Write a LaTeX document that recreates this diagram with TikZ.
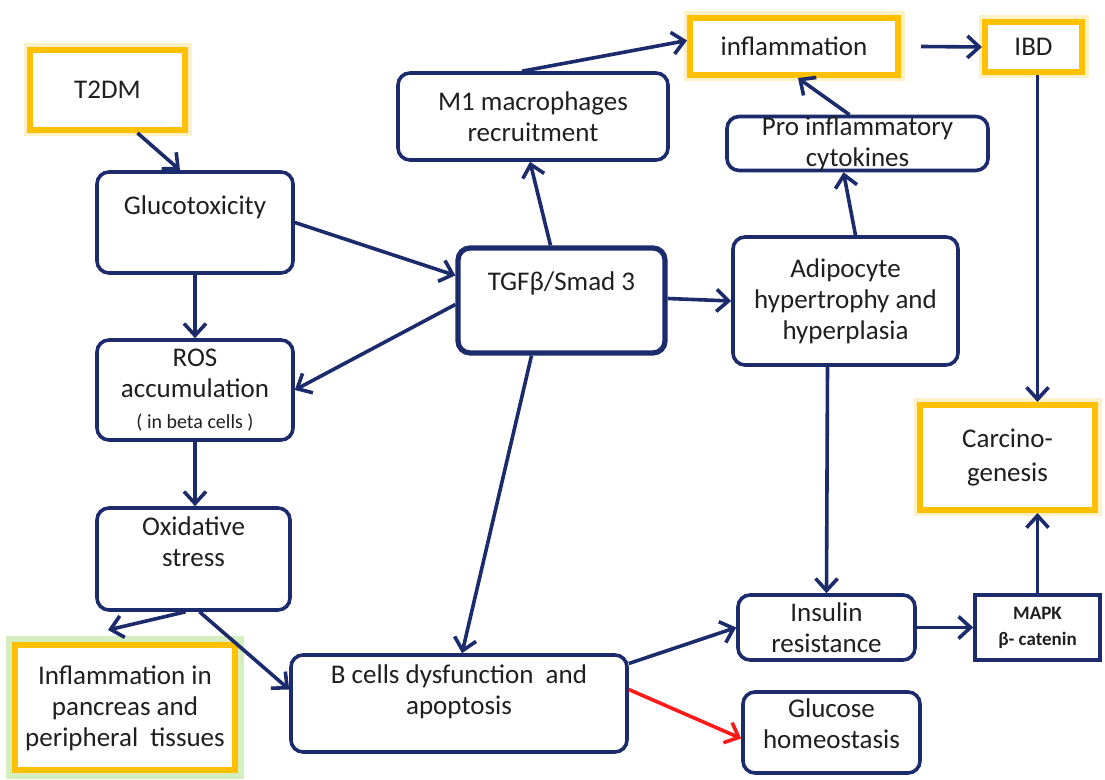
\documentclass[tikz,border=0pt]{standalone}
\usepackage{fontspec}
\setmainfont{Carlito}
\usepackage{xcolor}
\usetikzlibrary{arrows.meta}
\definecolor{navy}{HTML}{1B2B6B}
\definecolor{gold}{HTML}{FFC000}
\definecolor{glowgreen}{HTML}{D5EEBD}
\definecolor{arrred}{HTML}{FF1A1A}
\tikzset{
  txt/.style={text=black!88, align=center, font=\fontsize{13.5}{15.5}\selectfont},
  pbox/.style={txt, draw=navy, line width=1.8pt, rounded corners=6pt, inner sep=1pt},
  ybox/.style={txt, draw=gold, fill=white, line width=3pt, inner sep=1pt,
    preaction={draw=gold!22, line width=6.5pt}},
  sbox/.style={txt, draw=navy, line width=1.8pt, inner sep=1pt},
  arr/.style={draw=navy, line width=1.8pt, -{Straight Barb[length=6pt,width=11pt,line width=1.8pt]}},
  redarr/.style={arr, draw=arrred, -{Straight Barb[length=6pt,width=11pt,line width=1.8pt,color=arrred]}},
}
\begin{document}
\begin{tikzpicture}[x=0.5pt,y=-0.5pt]
    \useasboundingbox (0,0) rectangle (1105,780);
    % left column
    \node[ybox, minimum width=77.5pt, minimum height=40pt] (tdm) at (107.5,90) {T2DM};
    \node[pbox, minimum width=98pt, minimum height=50.5pt,
      label={[txt, yshift=7.5pt]center:Glucotoxicity}] (glu) at (195,222.5) {};
    \node[pbox, minimum width=98pt, minimum height=50pt] (ros) at (195,390)
      {ROS\\accumulation\\{\fontsize{10}{15}\selectfont( in beta cells )}};
    \node[pbox, minimum width=96.5pt, minimum height=51pt,
      label={[txt, yshift=8.5pt]center:Oxidative\\stress}] (oxi) at (193.5,559) {};
    \node[ybox, preaction={draw=glowgreen, line width=9pt}, minimum width=110pt, minimum height=62.5pt]
      (panc) at (125,708) {Inflammation in\\pancreas and\\peripheral\ \ tissues};
    \coordinate (pancin) at (108,630);
    % middle
    \node[pbox, line width=2.6pt, minimum width=103.5pt, minimum height=52.5pt,
      label={[txt, yshift=8.5pt]center:TGFβ/Smad 3}] (tgf) at (561.5,300.5) {};
    \node[pbox, minimum width=135pt, minimum height=43.5pt] (m1) at (533,116.5)
      {M1 macrophages\\recruitment};
    \node[pbox, minimum width=168pt, minimum height=48.5pt,
      label={[txt, yshift=6pt]center:B cells dysfunction\ \ and\\apoptosis}] (bcell) at (459,703.5) {};
    % right
    \node[ybox, minimum width=104pt, minimum height=28.5pt] (infl) at (794,46.5) {inflammation};
    \node[ybox, minimum width=48.5pt, minimum height=25pt] (ibd) at (1033.5,47) {IBD};
    \node[pbox, inner ysep=0pt, minimum width=130.5pt, minimum height=26.5pt] (pro) at (857.5,143.5)
      {Pro inflammatory\\cytokines};
    \node[pbox, minimum width=112.5pt, minimum height=64pt] (adi) at (845.5,301)
      {Adipocyte\\hypertrophy and\\hyperplasia};
    \node[ybox, minimum width=87.5pt, minimum height=52.5pt] (carc) at (1007.5,457.5)
      {Carcino-\\[1.5pt]genesis};
    \node[pbox, inner ysep=0pt, minimum width=88.5pt, minimum height=32.5pt] (ins) at (826.5,627.5)
      {Insulin\\resistance};
    \node[sbox, minimum width=62.5pt, minimum height=32.5pt,
      font=\fontsize{9.5}{13}\selectfont\bfseries] (mapk) at (1037.5,627.5) {MAPK\\β- catenin};
    \node[pbox, minimum width=88.5pt, minimum height=40.5pt,
      label={[txt, yshift=4.5pt]center:Glucose\\homeostasis}] (glc) at (831.5,732.5) {};

    \draw[arr] ([xshift=15pt]tdm.south) -- ([xshift=-7.5pt]glu.north);
    \draw[arr] (glu.east) -- ([yshift=12.5pt]tgf.west);
    \draw[arr] (glu.south) -- (ros.north);
    \draw[arr] ([yshift=-2pt]tgf.west) -- (ros.east);
    \draw[arr] (ros.south) -- (ros.south |- oxi.north);
    \draw[arr] ([xshift=-4pt]oxi.south) -- (pancin);
    \draw[arr] ([xshift=3pt]oxi.south) -- ([yshift=7pt]bcell.west);
    \draw[arr] ([xshift=-5.5pt]tgf.north) -- ([xshift=-1.5pt]m1.south);
    \draw[arr] ([xshift=-5.5pt]m1.north) -- ([yshift=3pt]infl.west);
    \draw[arr] ([xshift=-15pt]tgf.south) -- ([xshift=1.5pt]bcell.north);
    \draw[arr] ([yshift=1pt]tgf.east) -- (adi.west);
    \draw[arr] ([xshift=5pt]adi.north) -- ([xshift=-7pt]pro.south);
    \draw[arr] ([xshift=-4pt]pro.north) -- ([xshift=2pt]infl.south);
    \draw[arr] ([xshift=10pt]infl.east) -- (ibd.west);
    \draw[arr] ([xshift=2pt]ibd.south) -- ([xshift=15pt]carc.north);
    \draw[arr] ([xshift=-9pt]adi.south) -- (ins.north);
    \draw[arr] ([yshift=20pt]bcell.east) -- (ins.west);
    \draw[redarr] ([yshift=7pt]bcell.east) -- ([yshift=-3pt]glc.west);
    \draw[arr] (ins.east) -- (mapk.west);
    \draw[arr] (mapk.north) -- ([xshift=15pt]carc.south);
\end{tikzpicture}
\end{document}
